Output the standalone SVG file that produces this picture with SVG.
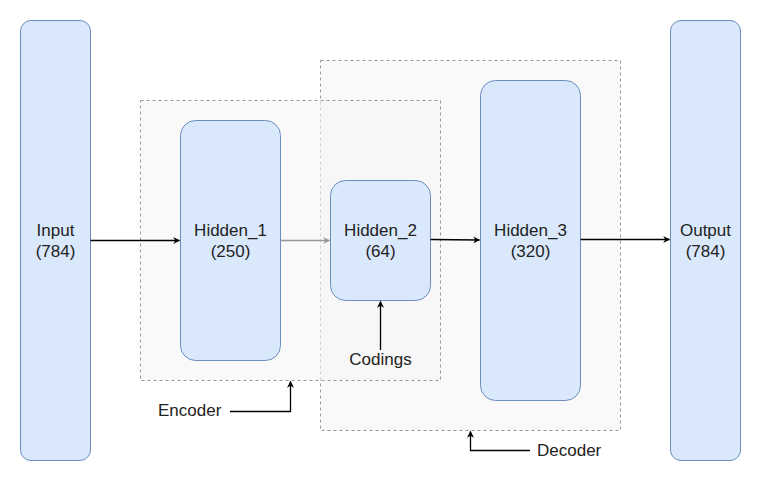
<svg xmlns="http://www.w3.org/2000/svg" width="761" height="482" viewBox="0 0 761 482">
<defs>
<style>
.grp{fill:#f5f5f5;fill-opacity:0.6;stroke:#999;stroke-width:1;stroke-dasharray:3 3}
.node{fill:#dae8fc;stroke:#6c8ebf;stroke-width:1}
.t{font-family:"Liberation Sans",Arial,sans-serif;font-size:17px;fill:#222;text-anchor:middle}
.tl{font-family:"Liberation Sans",Arial,sans-serif;font-size:17px;fill:#222}
.c{fill:none;stroke:#000;stroke-width:1.3}
</style>
<marker id="ah" viewBox="0 0 10 10" refX="9" refY="5" markerWidth="7" markerHeight="7" markerUnits="userSpaceOnUse" orient="auto"><path d="M0,0 L10,5 L0,10 L3,5 Z" fill="#000"/></marker>
<marker id="ahg" viewBox="0 0 10 10" refX="9" refY="5" markerWidth="7" markerHeight="7" markerUnits="userSpaceOnUse" orient="auto"><path d="M0,0 L10,5 L0,10 L3,5 Z" fill="#999"/></marker>
</defs>
<rect width="761" height="482" fill="#fff"/>
<g id="decoder-group"><rect class="grp" x="320.5" y="60.5" width="300" height="370"/></g>
<g id="encoder-group"><rect class="grp" x="140.5" y="100.5" width="300" height="280"/></g>
<g id="input"><rect class="node" x="20.5" y="20.5" width="70" height="440" rx="10.5"/><text class="t" x="55.5" y="236">Input</text><text class="t" x="55.5" y="256.5">(784)</text></g>
<g id="hidden1"><rect class="node" x="180.5" y="120.5" width="100" height="240" rx="15"/><text class="t" x="230.5" y="236">Hidden_1</text><text class="t" x="230.5" y="256.5">(250)</text></g>
<g id="hidden2"><rect class="node" x="330.5" y="180.5" width="100" height="120" rx="15"/><text class="t" x="380.5" y="236">Hidden_2</text><text class="t" x="380.5" y="256.5">(64)</text></g>
<g id="hidden3"><rect class="node" x="480.5" y="80.5" width="100" height="320" rx="15"/><text class="t" x="530.5" y="236">Hidden_3</text><text class="t" x="530.5" y="256.5">(320)</text></g>
<g id="output"><rect class="node" x="670.5" y="20.5" width="70" height="440" rx="10.5"/><text class="t" x="705.5" y="236">Output</text><text class="t" x="705.5" y="256.5">(784)</text></g>
<g id="labels">
<text class="t" x="380.5" y="365">Codings</text>
<text class="tl" x="158" y="416">Encoder</text>
<text class="tl" x="537" y="456">Decoder</text>
</g>
<g id="connectors">
<path class="c" d="M90.5,240.5 H179.5" marker-end="url(#ah)"/>
<path class="c" d="M280.5,240.5 H329.5" stroke="#999" style="stroke:#999" marker-end="url(#ahg)"/>
<path class="c" d="M430.5,239.5 L479.5,240" marker-end="url(#ah)"/>
<path class="c" d="M580.5,239.5 H669.5" marker-end="url(#ah)"/>
<path class="c" d="M380.5,350 V301.5" marker-end="url(#ah)"/>
<path class="c" d="M230,411.5 H290.5 V381.5" marker-end="url(#ah)"/>
<path class="c" d="M530,450.5 H470.5 V431.5" marker-end="url(#ah)"/>
</g>
</svg>
